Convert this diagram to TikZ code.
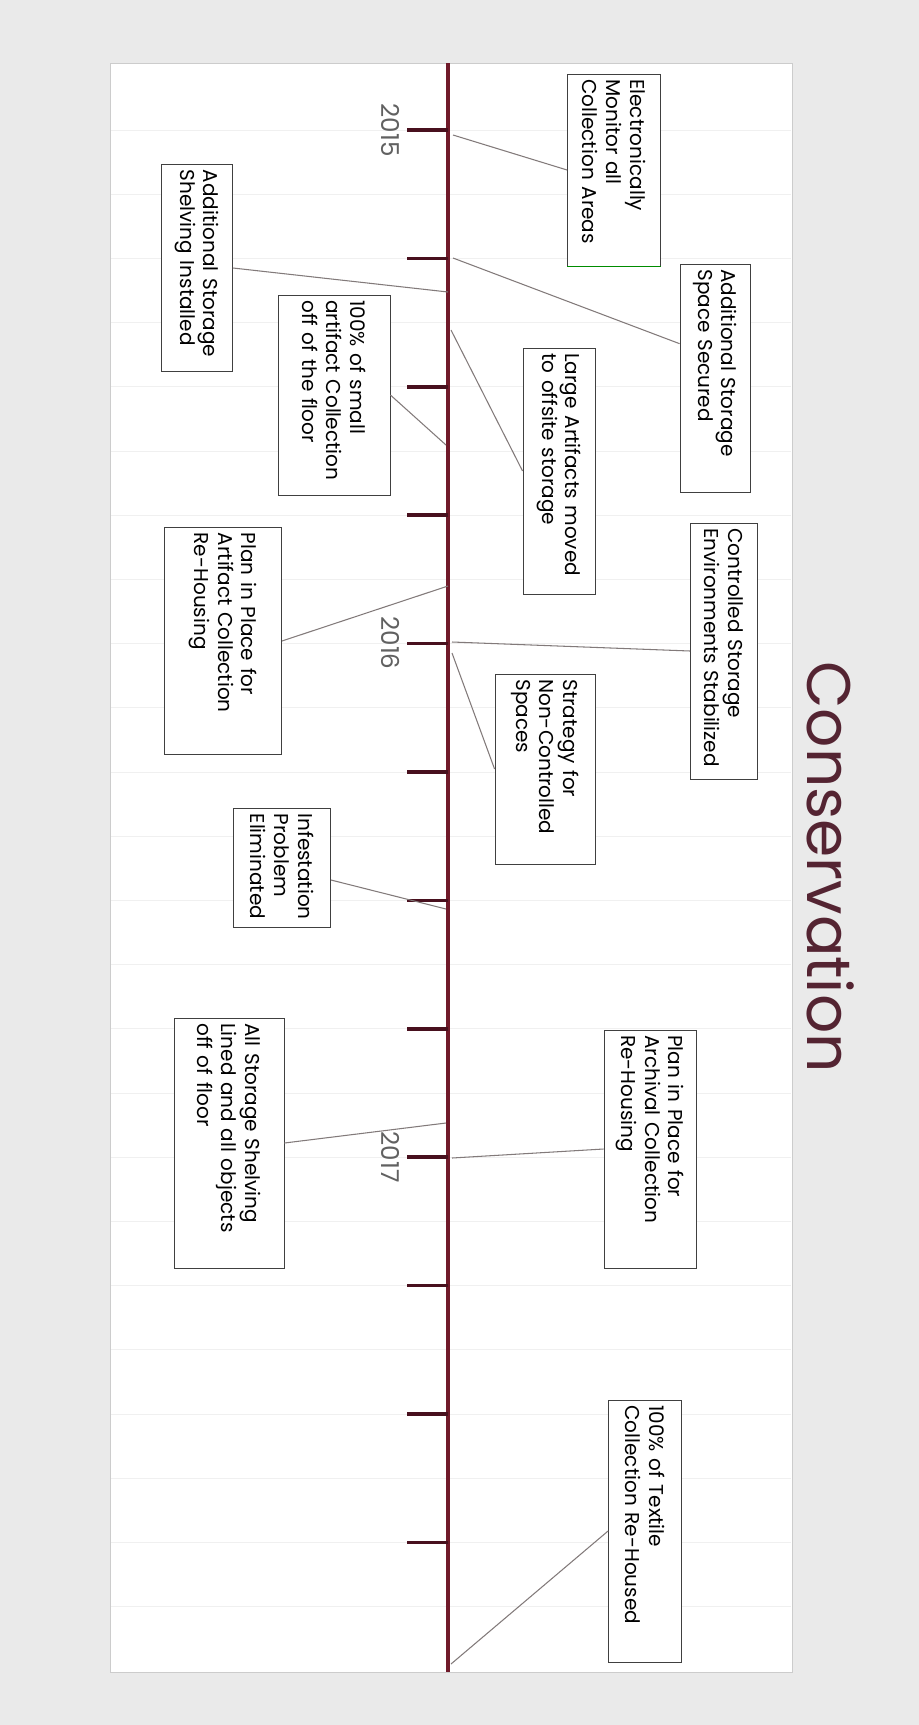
\documentclass[tikz,border=0pt]{standalone}
\usepackage{fontspec}
\setmainfont{Poppins}
\usetikzlibrary{calc}
\definecolor{pagegray}{RGB}{234,234,234}
\definecolor{rulegray}{RGB}{240,240,240}
\definecolor{axismaroon}{RGB}{112,26,42}
\definecolor{tickmaroon}{RGB}{72,16,30}
\definecolor{linkgray}{RGB}{130,122,122}
\definecolor{titlemaroon}{RGB}{84,36,50}
\tikzset{
  eventbox/.style={draw=black!75, fill=white, rotate=-90, align=left,
                   font=\fontsize{11.4}{13.5}\selectfont,
                   inner xsep=3pt, inner ysep=2pt, line width=0.5pt},
  yearlabel/.style={rotate=-90, text=black!62, font=\fontsize{14}{16}\selectfont},
  titlelabel/.style={rotate=-90, text=titlemaroon, font=\fontsize{35}{40}\selectfont},
  linkline/.style={linkgray, line width=0.6pt},
  tickmark/.style={tickmaroon, line width=2pt}
}

\begin{document}
\begin{tikzpicture}[x=0.02cm, y=-0.02cm]
  \useasboundingbox (0,0) rectangle (919,1725);
  \fill[pagegray] (0,0) rectangle (919,1725);
  \draw[black!20, fill=white] (110,63) rectangle (792,1672);
  \foreach \k in {0,...,23} {
    \draw[rulegray] (111,130+64.2*\k) -- (791,130+64.2*\k);
  }

  \node[titlelabel] (title) at (831,867) {Conservation};

  \coordinate (axtop) at (448,63);
  \coordinate (axbot) at (448,1672);
  \draw[axismaroon, line width=2.2pt] (axtop) -- (axbot);
  \foreach \k in {0,...,11} {
    \draw[tickmark] (407,130+128.4*\k) -- (448,130+128.4*\k);
  }

  \node[yearlabel] (y2015) at (391,130) {2015};
  \node[yearlabel] (y2016) at (391,643) {2016};
  \node[yearlabel] (y2017) at (391,1157) {2017};

  \node[eventbox, text width=3.63cm, minimum width=3.84cm, minimum height=1.86cm] (monitor) at (614,170)
    {Electronically\\Monitor all\\Collection Areas};
  \node[eventbox, text width=4.35cm, minimum width=4.56cm, minimum height=1.40cm] (space) at (715,378)
    {Additional Storage\\Space Secured};
  \node[eventbox, text width=3.93cm, minimum width=4.14cm, minimum height=1.42cm] (shelving) at (197,268)
    {Additional Storage\\Shelving Installed};
  \node[eventbox, text width=3.79cm, minimum width=4.00cm, minimum height=2.24cm] (small) at (334,395)
    {100\% of small\\artifact Collection\\off of the floor};
  \node[eventbox, text width=4.71cm, minimum width=4.92cm, minimum height=1.44cm] (large) at (559,471)
    {Large Artifacts moved\\to offsite storage};
  \node[eventbox, text width=4.33cm, minimum width=4.54cm, minimum height=2.34cm] (artplan) at (223,641)
    {Plan in Place for\\Artifact Collection\\Re-Housing};
  \node[eventbox, text width=4.91cm, minimum width=5.12cm, minimum height=1.34cm] (climate) at (724,651)
    {Controlled Storage\\Environments Stabilized};
  \node[eventbox, text width=3.59cm, minimum width=3.80cm, minimum height=2.00cm] (strategy) at (545,769)
    {Strategy for\\Non-Controlled\\Spaces};
  \node[eventbox, text width=2.17cm, minimum width=2.38cm, minimum height=1.94cm] (pests) at (282,868)
    {Infestation\\Problem\\Eliminated};
  \node[eventbox, text width=4.79cm, minimum width=5.00cm, minimum height=2.20cm] (lined) at (229,1143)
    {All Storage Shelving\\Lined and all objects\\off of floor};
  \node[eventbox, text width=4.55cm, minimum width=4.76cm, minimum height=1.84cm] (archplan) at (650,1149)
    {Plan in Place for\\Archival Collection\\Re-Housing};
  \node[eventbox, text width=5.03cm, minimum width=5.24cm, minimum height=1.46cm] (textile) at (645,1531)
    {100\% of Textile\\Collection Re-Housed};
  \draw[green!55!black, line width=0.8pt] (monitor.north east) -- (monitor.south east);

  \coordinate (on1) at (453,135);
  \coordinate (on2) at (453,258);
  \coordinate (on3) at (448,292);
  \coordinate (on4) at (446,445);
  \coordinate (on5) at (451,330);
  \coordinate (on6) at (448,586);
  \coordinate (on7) at (452,642);
  \coordinate (on8) at (452,653);
  \coordinate (on9) at (446,909);
  \coordinate (on10) at (446,1123);
  \coordinate (on11) at (452,1158);
  \coordinate (on12) at (451,1664);

  \draw[linkline] (on1) -- (monitor.south);
  \draw[linkline] (on2) -- ($(space.south west)!0.35!(space.south east)$);
  \draw[linkline] (shelving.north) -- (on3);
  \draw[linkline] (small.north) -- (on4);
  \draw[linkline] (on5) -- (large.south);
  \draw[linkline] (artplan.north) -- (on6);
  \draw[linkline] (on7) -- (climate.south);
  \draw[linkline] (on8) -- (strategy.south);
  \draw[linkline] ($(pests.north west)!0.6!(pests.north east)$) -- (on9);
  \draw[linkline] (lined.north) -- (on10);
  \draw[linkline] (on11) -- (archplan.south);
  \draw[linkline] (textile.south) -- (on12);
\end{tikzpicture}
\end{document}
